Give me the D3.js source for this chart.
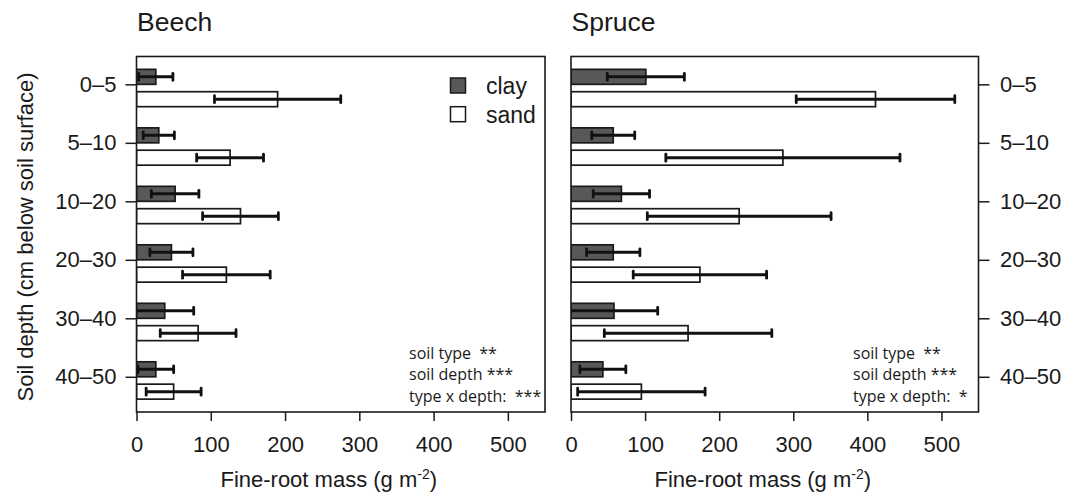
<!DOCTYPE html>
<html>
<head>
<meta charset="utf-8">
<script src="https://cdn.jsdelivr.net/npm/d3@7"></script>
<style>
  html, body { margin: 0; padding: 0; background: #fff; }
  svg { display: block; }
  text { font-family: "Liberation Sans", Arial, Helvetica, sans-serif; fill: #1a1a1a; }
  .note { font-family: "Open Sans", "Noto Sans", sans-serif; font-size: 16px; white-space: pre; }
</style>
</head>
<body>
<svg id="chart" width="1073" height="494"></svg>
<script>
// ---- data ----
const depths = ["0–5", "5–10", "10–20", "20–30", "30–40", "40–50"];
const soilTypes = ["clay", "sand"];
const xTicks = [0, 100, 200, 300, 400, 500];

const beechClay    = [26, 30, 52, 47, 38, 26];
const beechClayErr = [23, 21, 32, 29, 39, 24];
const beechSand    = [190, 126, 140, 121, 83, 50];
const beechSandErr = [85, 45, 51, 59, 51, 37];

const spruceClay    = [101, 57, 68, 57, 58, 43];
const spruceClayErr = [52, 29, 38, 36, 59, 31];
const spruceSand    = [411, 286, 227, 174, 158, 95];
const spruceSandErr = [107, 158, 124, 90, 113, 86];

const beechNotes  = ["soil type  **", "soil depth ***", "type x depth:  ***"];
const spruceNotes = ["soil type  **", "soil depth ***", "type x depth:  *"];

// ---- layout ----
const svg = d3.select("#chart");
const plotTop = 56.5, plotBottom = 412;
const panels = [
  { title: "Beech",  clay: beechClay,  clayErr: beechClayErr,  sand: beechSand,  sandErr: beechSandErr,
    notes: beechNotes,  left: 136.5, right: 545,   axisSide: "left",  legend: true },
  { title: "Spruce", clay: spruceClay, clayErr: spruceClayErr, sand: spruceSand, sandErr: spruceSandErr,
    notes: spruceNotes, left: 571,   right: 978.5, axisSide: "right", legend: false }
];

const yGroup = d3.scaleBand().domain(depths).range([plotTop, plotBottom]).paddingInner(0.362).paddingOuter(0.22);
const ySub = d3.scaleBand().domain(soilTypes).range([0, yGroup.bandwidth()]).paddingInner(0.33).paddingOuter(0);
const yTick = d3.scaleOrdinal().domain(depths)
  .range(depths.map(d => yGroup(d) + ySub("clay") + ySub.bandwidth()));
const fills = { clay: "#585858", sand: "#ffffff" };

panels.forEach((p, pi) => {
  const x = d3.scaleLinear().domain([0, 550]).range([p.left, p.right]);
  const g = svg.append("g");
  const clipId = "clip" + pi;
  svg.append("defs").append("clipPath").attr("id", clipId)
    .append("rect").attr("x", p.left).attr("y", plotTop).attr("width", p.right - p.left).attr("height", plotBottom - plotTop);

  // bars
  const rows = [];
  depths.forEach((d, i) => {
    rows.push({ depth: d, type: "clay", v: p.clay[i], e: p.clayErr[i] });
    rows.push({ depth: d, type: "sand", v: p.sand[i], e: p.sandErr[i] });
  });
  const barG = g.append("g").attr("clip-path", `url(#${clipId})`);
  barG.selectAll("rect.bar").data(rows).join("rect")
    .attr("class", "bar")
    .attr("x", x(0))
    .attr("y", r => yGroup(r.depth) + ySub(r.type))
    .attr("width", r => x(r.v) - x(0))
    .attr("height", ySub.bandwidth())
    .attr("fill", r => fills[r.type])
    .attr("stroke", "#1a1a1a").attr("stroke-width", 1.7);

  // error bars
  const eb = barG.selectAll("g.err").data(rows).join("g").attr("class", "err");
  const cy = r => yGroup(r.depth) + ySub(r.type) + ySub.bandwidth() / 2;
  eb.append("line")
    .attr("x1", r => x(r.v - r.e)).attr("x2", r => x(r.v + r.e))
    .attr("y1", cy).attr("y2", cy)
    .attr("stroke", "#111").attr("stroke-width", 3);
  [-1, 1].forEach(s => {
    eb.append("line")
      .attr("x1", r => x(r.v + s * r.e)).attr("x2", r => x(r.v + s * r.e))
      .attr("y1", r => cy(r) - 3.5).attr("y2", r => cy(r) + 3.5)
      .attr("stroke", "#111").attr("stroke-width", 2.8).attr("stroke-linecap", "round");
  });

  // box
  g.append("rect").attr("x", p.left).attr("y", plotTop)
    .attr("width", p.right - p.left).attr("height", plotBottom - plotTop)
    .attr("fill", "none").attr("stroke", "#1a1a1a").attr("stroke-width", 1.6);

  // x axis
  const xa = g.append("g").attr("transform", `translate(0,${plotBottom})`)
    .call(d3.axisBottom(x).tickValues(xTicks).tickSize(9).tickSizeOuter(0).tickPadding(15));
  xa.select(".domain").remove();
  xa.selectAll(".tick line").attr("stroke", "#1a1a1a").attr("stroke-width", 1.5);
  xa.selectAll(".tick text").attr("font-size", 22).attr("font-family", null).attr("fill", "#1a1a1a");

  // x title
  const xt = g.append("text")
    .attr("x", (p.left + p.right) / 2 - 12).attr("y", 486.5)
    .attr("text-anchor", "middle").attr("font-size", 22);
  xt.append("tspan").text("Fine-root mass (g m");
  xt.append("tspan").attr("font-size", 14).attr("dy", -8).text("-2");
  xt.append("tspan").attr("dy", 8).text(")");

  // y axis
  const axis = p.axisSide === "left" ? d3.axisLeft(yTick) : d3.axisRight(yTick);
  const ya = g.append("g").attr("transform", `translate(${p.axisSide === "left" ? p.left : p.right},0)`)
    .call(axis.tickSize(11).tickSizeOuter(0).tickPadding(p.axisSide === "left" ? 9 : 10.5));
  ya.select(".domain").remove();
  ya.selectAll(".tick line").attr("stroke", "#1a1a1a").attr("stroke-width", 1.5);
  ya.selectAll(".tick text").attr("font-size", 22).attr("font-family", null).attr("fill", "#1a1a1a");

  // panel title
  g.append("text").attr("x", p.left + 0.5).attr("y", 30.7)
    .attr("font-size", 26.5).text(p.title);

  // notes
  g.selectAll("text.note").data(p.notes).join("text")
    .attr("class", "note")
    .attr("x", pi === 0 ? 409 : 853)
    .attr("y", (d, i) => 359 + i * 21.3)
    .text(d => d);

  // legend
  if (p.legend) {
    const lg = g.append("g");
    soilTypes.forEach((t, i) => {
      lg.append("rect").attr("x", 450.5).attr("y", 78 + i * 28.7).attr("width", 15).attr("height", 15)
        .attr("fill", fills[t]).attr("stroke", "#1a1a1a").attr("stroke-width", 1.5);
      lg.append("text").attr("x", 486).attr("y", 94 + i * 28.7).attr("font-size", 23).text(t);
    });
  }
});

// y title
svg.append("text")
  .attr("transform", "translate(33,237) rotate(-90)")
  .attr("text-anchor", "middle").attr("font-size", 22)
  .text("Soil depth (cm below soil surface)");
</script>
</body>
</html>
